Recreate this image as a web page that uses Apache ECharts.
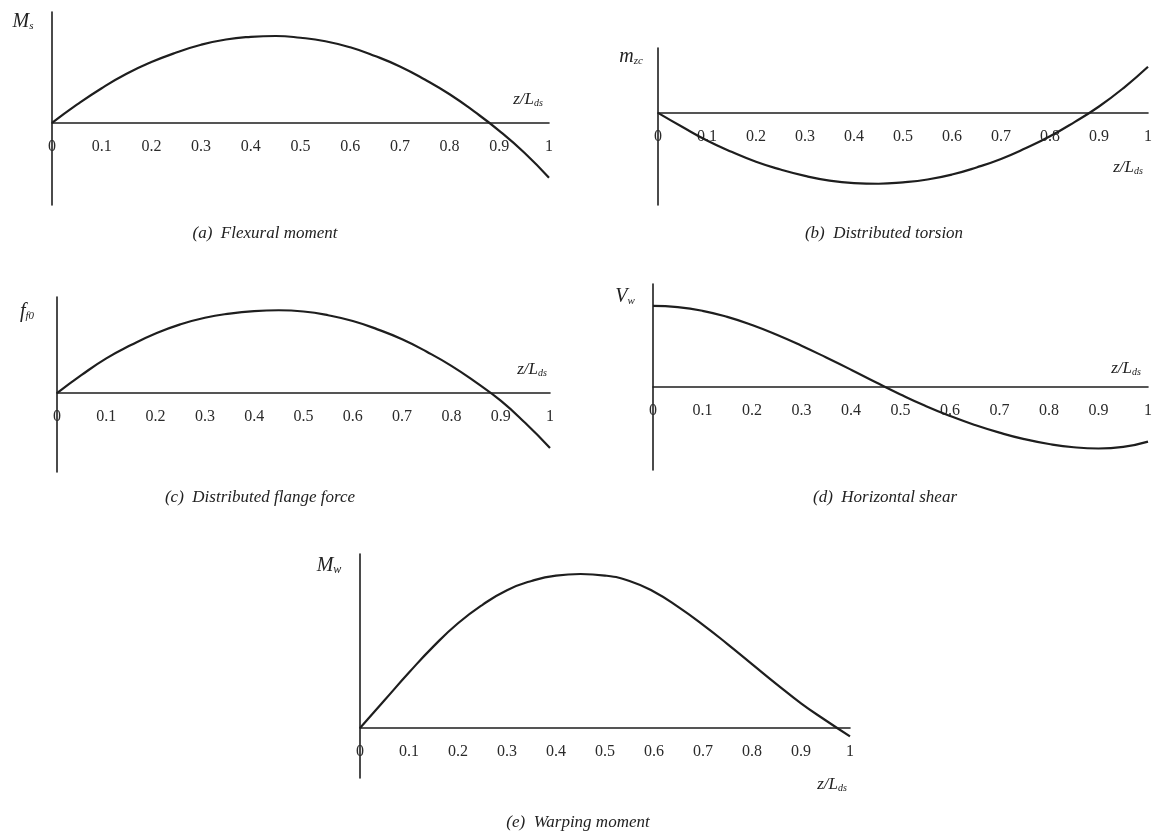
<!DOCTYPE html>
<html>
<head>
<meta charset="utf-8">
<script src="https://cdn.jsdelivr.net/npm/echarts@6/dist/echarts.min.js"></script>
<style>html,body{margin:0;padding:0;background:#fff;}#c{width:1156px;height:838px;}</style>
</head>
<body>
<div id="c"></div>
<script>
// z / L_ds sample positions
const zPos = [0,0.05,0.1,0.15,0.2,0.25,0.3,0.35,0.4,0.45,0.5,0.55,0.6,0.65,0.7,0.75,0.8,0.85,0.9,0.95,1.0];
const xTicks = ['0','0.1','0.2','0.3','0.4','0.5','0.6','0.7','0.8','0.9','1'];
// (a) Flexural moment M_s
const flexuralMoment = [0,0.21,0.40,0.565,0.70,0.81,0.90,0.96,0.99,1.00,0.98,0.94,0.87,0.77,0.65,0.50,0.33,0.13,-0.09,-0.34,-0.63];
// (b) Distributed torsion m_zc
const distributedTorsion = [0,-0.20,-0.39,-0.55,-0.69,-0.80,-0.89,-0.955,-0.99,-1.00,-0.98,-0.94,-0.87,-0.77,-0.65,-0.50,-0.33,-0.13,0.09,0.35,0.65];
// (c) Distributed flange force f_f0
const flangeForce = [0,0.22,0.42,0.58,0.72,0.83,0.91,0.96,0.99,1.00,0.985,0.94,0.87,0.77,0.65,0.50,0.33,0.13,-0.09,-0.36,-0.66];
// (d) Horizontal shear V_w
const horizontalShear = [1.0,0.985,0.94,0.865,0.765,0.645,0.51,0.365,0.215,0.06,-0.09,-0.23,-0.355,-0.465,-0.56,-0.64,-0.70,-0.74,-0.755,-0.735,-0.67];
// (e) Warping moment M_w
const warpingMoment = [0,0.18,0.36,0.53,0.68,0.80,0.895,0.955,0.99,1.00,0.99,0.955,0.885,0.785,0.67,0.545,0.415,0.285,0.16,0.05,-0.055];

const panels = [
  {data: flexuralMoment, grid:{left:52, top:12, width:497, height:193}, yMin:-0.943, yMax:1.276},
  {data: distributedTorsion, grid:{left:658, top:48, width:490, height:157}, yMin:-1.30, yMax:0.915},
  {data: flangeForce, grid:{left:57, top:297, width:493, height:175}, yMin:-0.95, yMax:1.16},
  {data: horizontalShear, grid:{left:653, top:284, width:495, height:186}, yMin:-1.02, yMax:1.27},
  {data: warpingMoment, grid:{left:360, top:554, width:490, height:224}, yMin:-0.325, yMax:1.13}
];

const serif = '"Liberation Serif","DejaVu Serif",serif';
const ink = '#1e1e1e';

const grids = [], xAxes = [], yAxes = [], series = [];
panels.forEach((p, i) => {
  grids.push(Object.assign({containLabel:false}, p.grid));
  // lift the horizontal axis (line + labels) from the grid bottom up to y = 0
  const zeroLift = p.grid.height * (0 - p.yMin) / (p.yMax - p.yMin);
  xAxes.push({
    type:'value', gridIndex:i, min:0, max:1, interval:0.1,
    position:'bottom', offset:-zeroLift,
    axisLine:{onZero:false, lineStyle:{color:ink, width:1.6}},
    axisTick:{show:false}, splitLine:{show:false},
    axisLabel:{
      color:'#2a2a2a', fontFamily:serif, fontSize:16, margin:16,
      showMaxLabel:true, showMinLabel:true,
      formatter:(v)=>xTicks[Math.round(v*10)]
    }
  });
  yAxes.push({
    type:'value', gridIndex:i, min:p.yMin, max:p.yMax,
    axisLine:{show:true, onZero:false, lineStyle:{color:ink, width:1.6}},
    axisTick:{show:false}, axisLabel:{show:false}, splitLine:{show:false}
  });
  series.push({
    type:'line', xAxisIndex:i, yAxisIndex:i, smooth:0.5, symbol:'none',
    lineStyle:{color:ink, width:2.2},
    data: zPos.map((z, k) => [z, p.data[k]])
  });
});

function nameText(x, y, main, sub, mainSize, subSize) {
  return {
    type:'text', x:x, y:y, z:10,
    style:{
      text:'{m|' + main + '}{s|' + sub + '}',
      align:'center', verticalAlign:'middle',
      rich:{
        m:{fontFamily:serif, fontStyle:'italic', fontSize:mainSize, fill:'#222'},
        s:{fontFamily:serif, fontStyle:'italic', fontSize:subSize, fill:'#222', padding:[subSize*0.7,0,0,0]}
      }
    }
  };
}
function caption(x, y, t) {
  return {type:'text', x:x, y:y, style:{text:t, align:'center', verticalAlign:'middle',
    fontFamily:serif, fontStyle:'italic', fontSize:17, fill:'#222'}};
}

const graphics = [
  nameText(23, 22, 'M', 's', 20, 11),
  nameText(631, 57, 'm', 'zc', 20, 11),
  nameText(27, 312, 'f', 'f0', 20, 11),
  nameText(625, 297, 'V', 'w', 20, 11),
  nameText(329, 566, 'M', 'w', 20, 12),
  nameText(528, 100, 'z/L', 'ds', 17, 10),
  nameText(1128, 168, 'z/L', 'ds', 17, 10),
  nameText(532, 370, 'z/L', 'ds', 17, 10),
  nameText(1126, 369, 'z/L', 'ds', 17, 10),
  nameText(832, 785, 'z/L', 'ds', 17, 10),
  caption(265, 234, '(a)  Flexural moment'),
  caption(884, 234, '(b)  Distributed torsion'),
  caption(260, 498, '(c)  Distributed flange force'),
  caption(885, 498, '(d)  Horizontal shear'),
  caption(578, 823, '(e)  Warping moment')
];

const chart = echarts.init(document.getElementById('c'), null, {renderer:'canvas'});
chart.setOption({
  backgroundColor:'#ffffff',
  animation:false,
  grid:grids, xAxis:xAxes, yAxis:yAxes, series:series,
  graphic:graphics
});
</script>
</body>
</html>
